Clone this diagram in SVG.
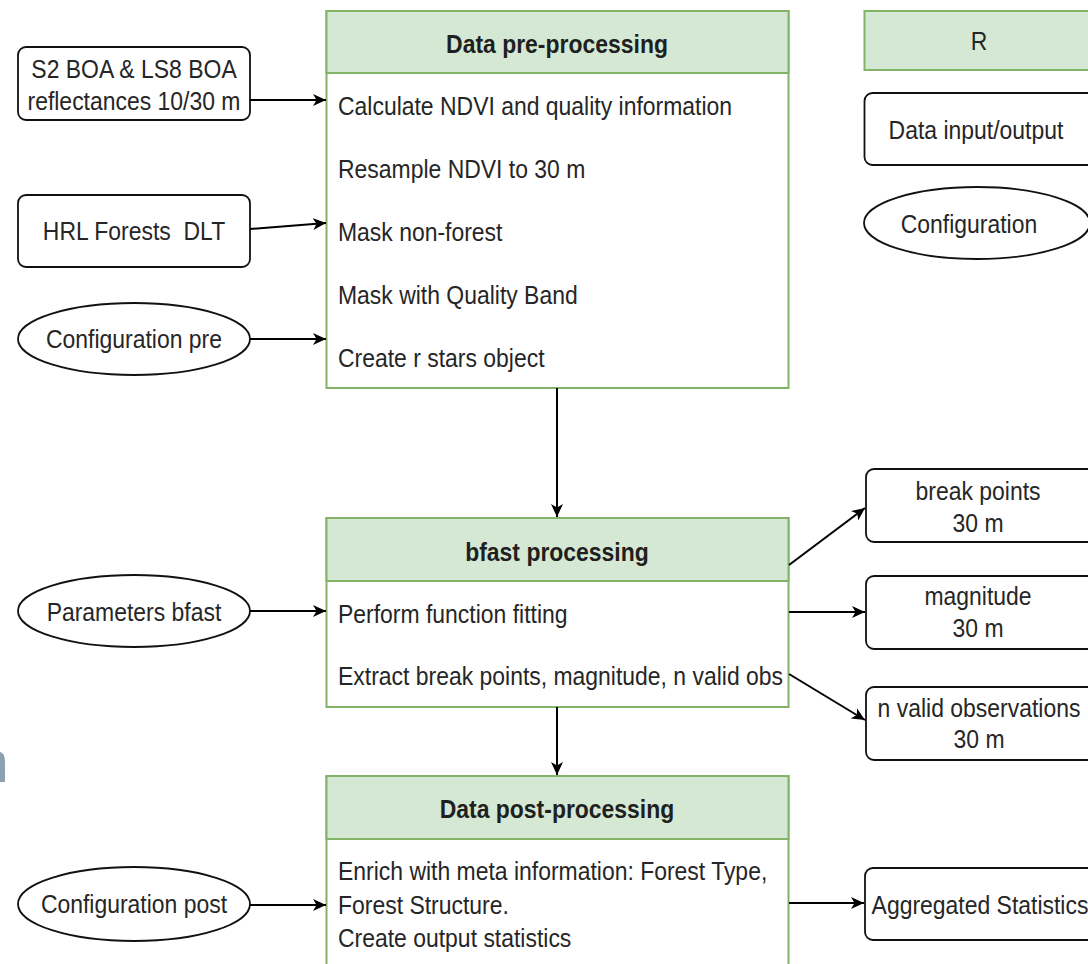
<svg xmlns="http://www.w3.org/2000/svg" width="1088" height="964" viewBox="0 0 1088 964">
<style>
  .t { font-family: "Liberation Sans", Arial, sans-serif; font-size: 25.5px; fill: #262626; transform-box: fill-box; transform-origin: left center; transform: scaleX(0.9); }
  .c { text-anchor: middle; transform-origin: center; }
  .h { font-weight: bold; fill: #1f1f1f; }
  .node { fill: #ffffff; stroke: #111111; stroke-width: 1.8; }
  .lane { fill: #ffffff; stroke: #82b366; stroke-width: 2; }
  .head { fill: #d5e8d4; stroke: #82b366; stroke-width: 2; }
  .conn line { stroke: #000000; stroke-width: 2; marker-end: url(#arr); }
</style>
<defs>
  <marker id="arr" markerUnits="userSpaceOnUse" markerWidth="15" markerHeight="13" refX="13" refY="6.5" orient="auto">
    <path d="M0,0.5 L13,6.5 L0,12.5 L3.5,6.5 Z" fill="#000000"/>
  </marker>
  <clipPath id="bfclip"><rect x="326" y="581" width="457" height="126"/></clipPath>
</defs>
<rect width="1088" height="964" fill="#ffffff"/>

<!-- stray fragment at left edge -->
<path d="M0,752 Q5,753 5,762 L5,782 L0,782 Z" fill="#8ca1b0"/>

<g id="s2-input">
  <rect class="node" x="18" y="47" width="232" height="73" rx="8"/>
  <text class="t c" x="134" y="78">S2 BOA &amp; LS8 BOA</text>
  <text class="t c" x="134" y="110">reflectances 10/30 m</text>
</g>
<g id="hrl-input">
  <rect class="node" x="18" y="195" width="232" height="72" rx="8"/>
  <text class="t c" x="134" y="240" xml:space="preserve">HRL Forests  DLT</text>
</g>
<g id="config-pre">
  <ellipse class="node" cx="134" cy="339" rx="116" ry="36"/>
  <text class="t c" x="134" y="348">Configuration pre</text>
</g>
<g id="params-bfast">
  <ellipse class="node" cx="134" cy="611" rx="116" ry="36"/>
  <text class="t c" x="134" y="621">Parameters bfast</text>
</g>
<g id="config-post">
  <ellipse class="node" cx="134" cy="904" rx="116" ry="37"/>
  <text class="t c" x="134" y="913">Configuration post</text>
</g>

<g id="pre-processing">
  <rect class="lane" x="326.5" y="11" width="462" height="377"/>
  <rect class="head" x="326.5" y="11" width="462" height="62"/>
  <text class="t c h" x="557" y="53">Data pre-processing</text>
  <text class="t" x="338" y="115">Calculate NDVI and quality information</text>
  <text class="t" x="338" y="178">Resample NDVI to 30 m</text>
  <text class="t" x="338" y="241">Mask non-forest</text>
  <text class="t" x="338" y="304">Mask with Quality Band</text>
  <text class="t" x="338" y="367">Create r stars object</text>
</g>

<g id="bfast-processing">
  <rect class="lane" x="326.5" y="518" width="462" height="189"/>
  <rect class="head" x="326.5" y="518" width="462" height="63"/>
  <text class="t c h" x="557" y="561">bfast processing</text>
  <text class="t" x="338" y="623">Perform function fitting</text>
  <g clip-path="url(#bfclip)">
    <text class="t" x="338" y="685">Extract break points, magnitude, n valid obs</text>
  </g>
</g>

<g id="post-processing">
  <rect class="lane" x="326.5" y="776" width="462" height="200"/>
  <rect class="head" x="326.5" y="776" width="462" height="63"/>
  <text class="t c h" x="557" y="818">Data post-processing</text>
  <text class="t" x="338" y="880">Enrich with meta information: Forest Type,</text>
  <text class="t" x="338" y="914">Forest Structure.</text>
  <text class="t" x="338" y="947">Create output statistics</text>
</g>

<g id="legend-r">
  <rect class="head" x="864.5" y="11" width="232" height="59"/>
  <text class="t c" x="979" y="50">R</text>
</g>
<g id="legend-data">
  <rect class="node" x="864.5" y="93" width="232" height="72" rx="8"/>
  <text class="t c" x="976" y="139">Data input/output</text>
</g>
<g id="legend-config">
  <ellipse class="node" cx="977" cy="223" rx="113" ry="36"/>
  <text class="t c" x="969" y="233">Configuration</text>
</g>

<g id="out-breakpoints">
  <rect class="node" x="866" y="469" width="232" height="73" rx="8"/>
  <text class="t c" x="978" y="500">break points</text>
  <text class="t c" x="978" y="532">30 m</text>
</g>
<g id="out-magnitude">
  <rect class="node" x="866" y="576" width="232" height="73" rx="8"/>
  <text class="t c" x="978" y="605">magnitude</text>
  <text class="t c" x="978" y="637">30 m</text>
</g>
<g id="out-nvalid">
  <rect class="node" x="866" y="687" width="232" height="73" rx="8"/>
  <text class="t c" x="979" y="717">n valid observations</text>
  <text class="t c" x="979" y="748">30 m</text>
</g>
<g id="out-aggregated">
  <rect class="node" x="865" y="868" width="232" height="72" rx="8"/>
  <text class="t c" x="980" y="914">Aggregated Statistics</text>
</g>

<g id="connectors" class="conn">
  <line x1="250" y1="100" x2="326" y2="100"/>
  <line x1="250" y1="229" x2="326" y2="223"/>
  <line x1="250" y1="339" x2="326" y2="339"/>
  <line x1="557" y1="388" x2="557" y2="517"/>
  <line x1="250" y1="611" x2="326" y2="611"/>
  <line x1="789" y1="565" x2="865" y2="508"/>
  <line x1="789" y1="612" x2="865" y2="612"/>
  <line x1="789" y1="674" x2="865" y2="720"/>
  <line x1="557" y1="707" x2="557" y2="775"/>
  <line x1="250" y1="905" x2="326" y2="905"/>
  <line x1="789" y1="903" x2="864" y2="903"/>
</g>
</svg>
